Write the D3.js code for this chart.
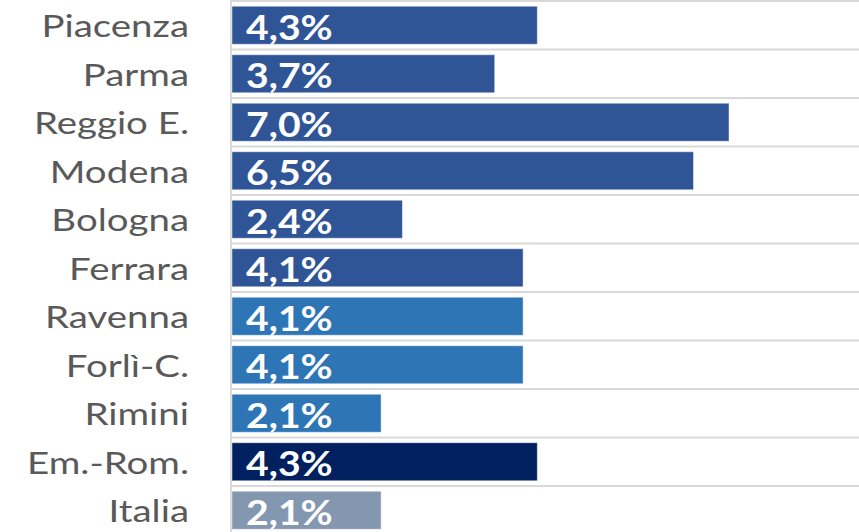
<!DOCTYPE html>
<html>
<head>
<meta charset="utf-8">
<script src="https://cdn.jsdelivr.net/npm/d3@7"></script>
<style>
  html, body { margin: 0; padding: 0; background: #fff; }
  svg { display: block; }
</style>
</head>
<body>
<svg id="chart" width="859" height="532"></svg>
<script>
// Provinces of Emilia-Romagna, the region and Italy
const categories = ["Piacenza", "Parma", "Reggio E.", "Modena", "Bologna", "Ferrara",
                    "Ravenna", "Forlì-C.", "Rimini", "Em.-Rom.", "Italia"];
const values = [4.3, 3.7, 7.0, 6.5, 2.4, 4.1, 4.1, 4.1, 2.1, 4.3, 2.1];
const groups = ["west", "west", "west", "west", "west", "west",
                "east", "east", "east", "region", "country"];

const groupColor = {
  west: "#2F5597",
  east: "#2E75B6",
  region: "#002060",
  country: "#8497B0"
};

const width = 859, height = 532;
const svg = d3.select("#chart");

const x0 = 232;
const x = d3.scaleLinear().domain([0, 9]).range([x0, x0 + 9 * 71]);

const step = 48.5;
const plotTop = 1;
const y = d3.scaleBand()
  .domain(categories)
  .range([plotTop, plotTop + step * categories.length])
  .paddingInner(0.216)
  .paddingOuter(0.108);

// horizontal separators between categories
const bounds = d3.range(categories.length + 1).map(i => plotTop + i * step);
svg.append("g")
  .selectAll("line")
  .data(bounds)
  .join("line")
  .attr("x1", x0 - 2)
  .attr("x2", width)
  .attr("y1", d => d)
  .attr("y2", d => d)
  .attr("stroke", "#D9D9D9")
  .attr("stroke-width", 2);

// category axis line
svg.append("line")
  .attr("x1", x0 - 1).attr("x2", x0 - 1)
  .attr("y1", 0).attr("y2", height)
  .attr("stroke", "#D9D9D9")
  .attr("stroke-width", 2);

// bars
svg.append("g")
  .selectAll("rect")
  .data(categories)
  .join("rect")
  .attr("x", x(0))
  .attr("y", d => y(d))
  .attr("width", (d, i) => x(values[i]) - x(0))
  .attr("height", y.bandwidth())
  .attr("fill", (d, i) => groupColor[groups[i]])
  .attr("stroke", "rgba(255,255,255,0.45)")
  .attr("stroke-width", 1);

const fmt = v => d3.format(".1f")(v).replace(".", ",") + "%";

// value labels inside bars (wide lettering)
svg.append("g")
  .selectAll("text")
  .data(categories)
  .join("text")
  .attr("transform", d => `translate(${x(0) + 14},${y(d) + y.bandwidth() / 2 + 14.5}) scale(1.12,1)`)
  .attr("fill", "#FFFFFF")
  .attr("font-family", "Lato, 'Open Sans', sans-serif")
  .attr("font-weight", "bold")
  .attr("font-size", 35)
  .text((d, i) => fmt(values[i]));

// category labels (wide lettering)
svg.append("g")
  .selectAll("text")
  .data(categories)
  .join("text")
  .attr("transform", d => `translate(189,${y(d) + y.bandwidth() / 2 + 12}) scale(1.24,1)`)
  .attr("text-anchor", "end")
  .attr("fill", "#595959")
  .attr("font-family", "Lato, 'Open Sans', sans-serif")
  .attr("font-size", 31)
  .text(d => d);
</script>
</body>
</html>
